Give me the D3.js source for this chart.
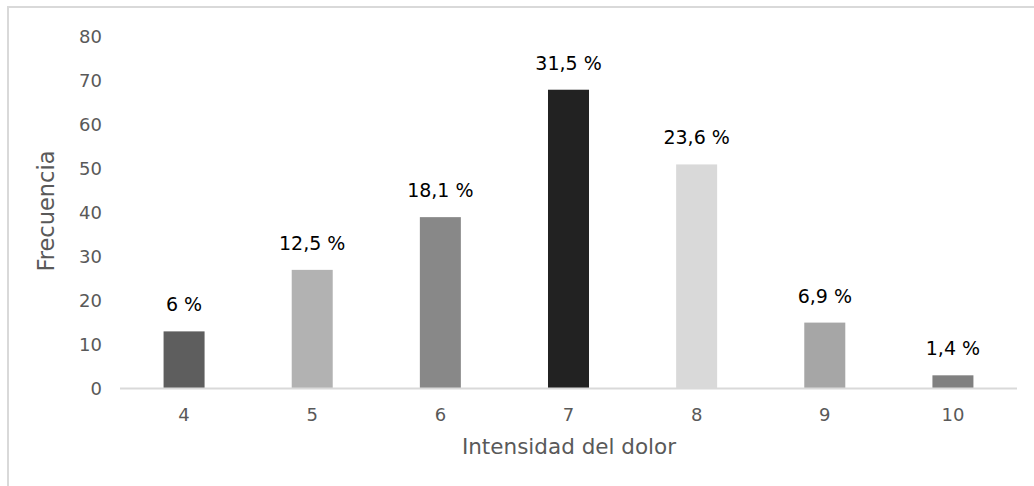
<!DOCTYPE html>
<html>
<head>
<meta charset="utf-8">
<script src="https://cdn.jsdelivr.net/npm/d3@7"></script>
<style>
  html, body { margin: 0; padding: 0; background: #fff; }
  svg { display: block; }
</style>
</head>
<body>
<svg id="chart" width="1034" height="486"></svg>
<script>
// Pain intensity distribution
const categories = ["4", "5", "6", "7", "8", "9", "10"];
const frequencies = [13, 27, 39, 68, 51, 15, 3];
const percentLabels = ["6 %", "12,5 %", "18,1 %", "31,5 %", "23,6 %", "6,9 %", "1,4 %"];
const barColors = ["#5e5e5e", "#b2b2b2", "#888888", "#222222", "#d9d9d9", "#a6a6a6", "#808080"];
const yTicks = [0, 10, 20, 30, 40, 50, 60, 70, 80];

const font = "DejaVu Sans, Verdana, sans-serif";
const svg = d3.select("#chart");

// chart frame (extends past the right/bottom edges)
svg.append("rect")
  .attr("x", 8).attr("y", 7)
  .attr("width", 1040).attr("height", 500)
  .attr("fill", "none")
  .attr("stroke", "#d9d9d9")
  .attr("stroke-width", 2);

const x = d3.scaleBand()
  .domain(categories)
  .range([120, 1017])
  .paddingInner(0.68)
  .paddingOuter(0.34);

const y = d3.scaleLinear()
  .domain([0, 80])
  .range([388.5, 37]);

// y-axis tick labels
const yAxis = d3.axisLeft(y).tickValues(yTicks).tickSize(0).tickPadding(0);
const yg = svg.append("g").attr("transform", "translate(102,0)").call(yAxis);
yg.select(".domain").remove();
yg.selectAll("text")
  .attr("font-family", font)
  .attr("font-size", 18)
  .attr("fill", "#595959");

// bars
svg.append("g").selectAll("rect")
  .data(frequencies)
  .join("rect")
  .attr("x", (d, i) => x(categories[i]))
  .attr("y", d => y(d))
  .attr("width", x.bandwidth())
  .attr("height", d => y(0) - y(d))
  .attr("fill", (d, i) => barColors[i]);

// baseline
svg.append("line")
  .attr("x1", 120).attr("x2", 1017)
  .attr("y1", y(0)).attr("y2", y(0))
  .attr("stroke", "#d9d9d9")
  .attr("stroke-width", 2);

// x-axis tick labels
const xAxis = d3.axisBottom(x).tickSize(0).tickPadding(0);
const xg = svg.append("g").attr("transform", `translate(0,${y(0) + 20})`).call(xAxis);
xg.select(".domain").remove();
xg.selectAll("text")
  .attr("font-family", font)
  .attr("font-size", 18)
  .attr("fill", "#595959");

// percentage labels above bars
svg.append("g").selectAll("text")
  .data(frequencies)
  .join("text")
  .attr("x", (d, i) => x(categories[i]) + x.bandwidth() / 2)
  .attr("y", d => y(d) - 20)
  .attr("text-anchor", "middle")
  .attr("font-family", font)
  .attr("font-size", 19)
  .attr("fill", "#000")
  .text((d, i) => percentLabels[i]);

// axis titles
svg.append("text")
  .attr("transform", `translate(54,211) rotate(-90)`)
  .attr("text-anchor", "middle")
  .attr("font-family", font)
  .attr("font-size", 22.5)
  .attr("fill", "#595959")
  .text("Frecuencia");

svg.append("text")
  .attr("x", 569)
  .attr("y", 453.5)
  .attr("text-anchor", "middle")
  .attr("font-family", font)
  .attr("font-size", 21.5)
  .attr("fill", "#595959")
  .text("Intensidad del dolor");
</script>
</body>
</html>
